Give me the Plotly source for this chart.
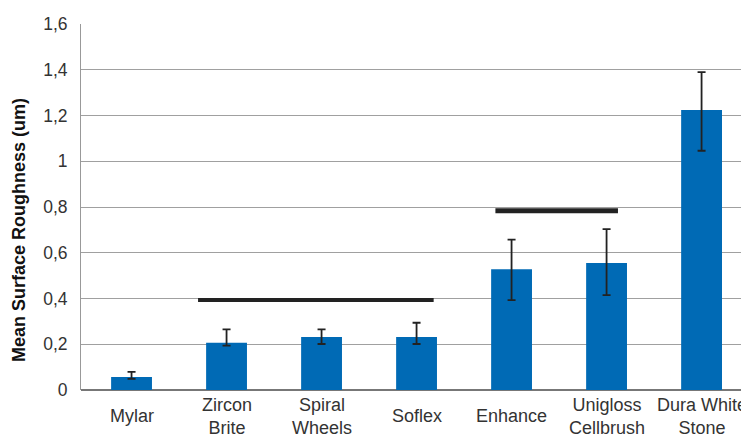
import plotly.graph_objects as go

categories = ["Mylar", "Zircon<br>Brite", "Spiral<br>Wheels", "Soflex", "Enhance", "Unigloss<br>Cellbrush", "Dura White<br>Stone"]
means = [0.057, 0.207, 0.232, 0.232, 0.528, 0.555, 1.224]
err_plus = [0.022, 0.058, 0.033, 0.062, 0.129, 0.148, 0.166]
err_minus = [0.008, 0.013, 0.031, 0.031, 0.135, 0.140, 0.178]

y_ticks = [0, 0.2, 0.4, 0.6, 0.8, 1.0, 1.2, 1.4, 1.6]
y_ticklabels = ["0", "0,2", "0,4", "0,6", "0,8", "1", "1,2", "1,4", "1,6"]

# significance groups: (start, end, level) in category units
group_start = [0.70, 3.83]
group_end = [3.18, 5.12]
group_level = [0.393, 0.784]
group_width = [4, 5]

FONT = "Liberation Sans, Arial, sans-serif"
idx = list(range(len(categories)))

fig = go.Figure()
fig.add_trace(go.Bar(
    x=idx, y=means, width=0.43,
    marker=dict(color="#006AB5", line=dict(width=0)),
    error_y=dict(type="data", symmetric=False, array=err_plus, arrayminus=err_minus,
                 color="#222222", thickness=1.8, width=4),
    showlegend=False,
))

for s, e, lv, w in zip(group_start, group_end, group_level, group_width):
    fig.add_shape(type="line", xref="x", yref="y", x0=s, x1=e, y0=lv, y1=lv,
                  line=dict(color="#222222", width=w))

for i, c in zip(idx, categories):
    fig.add_annotation(x=i, xref="x", y=-0.072, yref="paper", text=c, showarrow=False,
                       yanchor="middle", xanchor="center",
                       font=dict(family=FONT, size=18, color="#333333"))

fig.add_annotation(x=-0.094, xref="paper", xanchor="center", y=0.437, yref="paper",
                   yanchor="middle", text="<b>Mean Surface Roughness (um)</b>",
                   textangle=-90, showarrow=False,
                   font=dict(family=FONT, size=18, color="#111111"))

fig.update_layout(
    width=741, height=435,
    margin=dict(l=81, r=0, t=24, b=45),
    paper_bgcolor="white", plot_bgcolor="white",
    xaxis=dict(range=[-0.532, 6.415], showticklabels=False, showgrid=False,
               zeroline=False, showline=False, ticks=""),
    yaxis=dict(range=[0, 1.6], tickvals=y_ticks, ticktext=y_ticklabels,
               showgrid=True, gridcolor="#A0A0A0", gridwidth=1,
               zeroline=True, zerolinecolor="#777777", zerolinewidth=1.5,
               showline=True, linecolor="#999999", linewidth=1,
               ticks="", ticklabelstandoff=9,
               tickfont=dict(family=FONT, size=17.5, color="#333333")),
)
fig.write_html("out.html")
